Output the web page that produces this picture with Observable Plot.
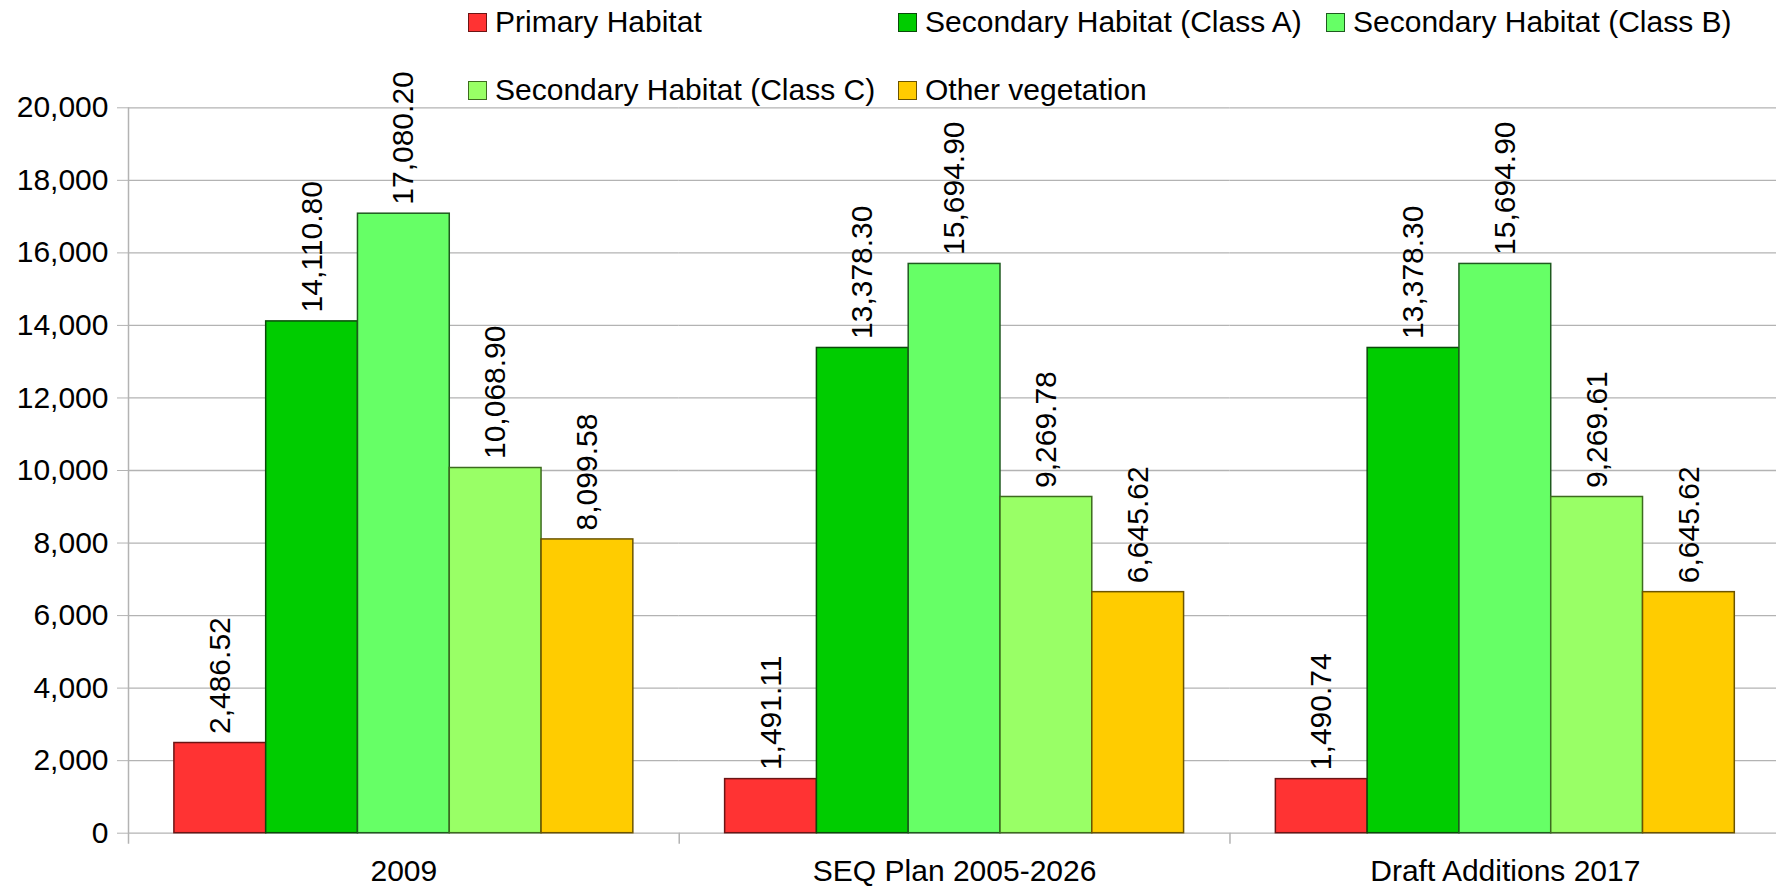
<!DOCTYPE html>
<html>
<head>
<meta charset="utf-8">
<script src="https://cdn.jsdelivr.net/npm/d3@7"></script>
<script src="https://cdn.jsdelivr.net/npm/@observablehq/plot@0.6"></script>
<style>
  html, body { margin: 0; padding: 0; background: #fff; }
  body { width: 1776px; height: 886px; overflow: hidden; font-family: "Liberation Sans", Arial, sans-serif; }
  #legend {
    height: 100px; box-sizing: border-box; padding-top: 7px; padding-left: 468px;
    display: grid; grid-template-columns: 430px 428px 440px; row-gap: 38px; grid-auto-rows: 30px;
  }
  .item { display: flex; align-items: center; font-size: 30px; line-height: 30px; color: #000; white-space: nowrap; }
  .sw { width: 19px; height: 19px; box-sizing: border-box; border: 1.5px solid; margin-right: 8px; flex: none; }
  svg.chart { overflow: visible; }
</style>
</head>
<body>
<div id="legend"></div>
<div id="chart"></div>
<script>
// ---- data ----
const groups = ["2009", "SEQ Plan 2005-2026", "Draft Additions 2017"];
const series = [
  "Primary Habitat",
  "Secondary Habitat (Class A)",
  "Secondary Habitat (Class B)",
  "Secondary Habitat (Class C)",
  "Other vegetation"
];
const values2009  = [2486.52, 14110.80, 17080.20, 10068.90, 8099.58];
const valuesSEQ   = [1491.11, 13378.30, 15694.90, 9269.78, 6645.62];
const valuesDraft = [1490.74, 13378.30, 15694.90, 9269.61, 6645.62];
const fills   = ["#ff3333", "#00cc00", "#66ff66", "#99ff66", "#ffcc00"];
const strokes = ["#6b1515", "#0a4a0a", "#1f5a1f", "#3d6b1f", "#6b5400"];
const yTicks  = [0, 2000, 4000, 6000, 8000, 10000, 12000, 14000, 16000, 18000, 20000];

// ---- build ----
const valueRows = [values2009, valuesSEQ, valuesDraft];
const data = groups.flatMap((g, gi) => series.map((s, si) => ({group: g, series: s, value: valueRows[gi][si]})));
const fillOf = s => fills[series.indexOf(s)];
const strokeOf = s => strokes[series.indexOf(s)];
const yMax = yTicks[yTicks.length - 1];
const separators = groups.map((g, i) => ({group: g, top: i === 0 ? yMax : 0}));

// legend
const legend = document.getElementById("legend");
series.forEach((s, i) => {
  const it = document.createElement("div");
  it.className = "item";
  const sw = document.createElement("span");
  sw.className = "sw";
  sw.style.background = fills[i];
  sw.style.borderColor = strokes[i];
  it.appendChild(sw);
  it.appendChild(document.createTextNode(s));
  legend.appendChild(it);
});

const W = 1776, H = 786, mL = 128, mR = -4.2, mT = 7.3, mB = 53.3;
const step = (W - mL - mR) / groups.length / (series.length + 1);
const grid = "#b3b3b3";
const fmt = d3.format(",.2f");
const tickFmt = d3.format(",.0f");

const chart = Plot.plot({
  width: W, height: H,
  marginLeft: mL, marginRight: mR, marginTop: mT, marginBottom: mB,
  className: "chart",
  style: {fontFamily: "'Liberation Sans', Arial, sans-serif", fontSize: "30px", color: "#000", background: "#fff", overflow: "visible"},
  fx: {domain: groups, padding: 0, label: null, round: false},
  x: {domain: series, paddingInner: 0, paddingOuter: 0.5, axis: null, round: false},
  y: {domain: [0, yMax], axis: null},
  marks: [
    Plot.ruleY(yTicks, {stroke: grid, strokeWidth: 1.3}),
    Plot.axisY({ticks: yTicks, tickFormat: tickFmt, tickSize: 11, tickPadding: 9, stroke: grid, fill: "#000", fontSize: 30, label: null}),
    Plot.axisFx({anchor: "bottom", tickSize: 0, tickPadding: 26, fontSize: 30, label: null, fill: "#000"}),
    Plot.barY(data, {fx: "group", x: "series", y: "value", fill: d => fillOf(d.series), stroke: d => strokeOf(d.series), strokeWidth: 1.5}),
    Plot.ruleX(separators, {fx: "group", x: () => series[0], y1: "top", y2: () => 0, dx: -step, insetBottom: -11, stroke: grid, strokeWidth: 1.5}),
    Plot.text(data, {fx: "group", x: "series", y: "value", text: d => fmt(d.value), rotate: -90, textAnchor: "start", dy: -9, fontSize: 30, fill: "#000"})
  ]
});
document.getElementById("chart").appendChild(chart);
</script>
</body>
</html>
